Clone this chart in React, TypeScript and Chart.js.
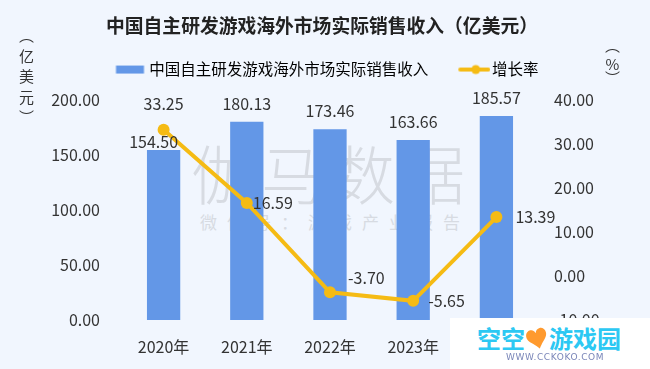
import React, { useEffect, useRef } from 'react';
import { Chart, registerables } from 'chart.js';

Chart.register(...registerables);

// ---------- data ----------
const categories = ['2020年', '2021年', '2022年', '2023年', '2024年'];
const revenue = [154.5, 180.13, 173.46, 163.66, 185.57];
const growth = [33.25, 16.59, -3.7, -5.65, 13.39];
const leftTickValues = [0, 50, 100, 150, 200];
const rightTickValues = [-10, 0, 10, 20, 30, 40];

const TITLE = '中国自主研发游戏海外市场实际销售收入（亿美元）';
const BAR_LABEL = '中国自主研发游戏海外市场实际销售收入';
const LINE_LABEL = '增长率';
const LEFT_AXIS_UNIT = '亿美元';
const RIGHT_AXIS_UNIT = '%';

// ---------- styles ----------
const FONT = '"Noto Sans CJK SC", "Noto Sans", sans-serif';
const BG = '#F1F6FE';
const BAR_COLOR = '#6397E7';
const LINE_COLOR = '#F5BB14';
const TEXT = '#333333';

// label nudges (dx, dy, align)
const BAR_LABEL_OFFSETS: [number, number][] = [[-10, -8], [0, -18], [0, -18], [0, -18], [0, -18]];
const LINE_LABEL_OFFSETS: [number, number, CanvasTextAlign][] = [
  [0, -26, 'center'],
  [6, 0, 'left'],
  [18, -14, 'left'],
  [15, 0, 'left'],
  [19, 0, 'left'],
];

function makeBarIcon(): HTMLCanvasElement {
  const c = document.createElement('canvas');
  c.width = 46;
  c.height = 10;
  const g = c.getContext('2d')!;
  g.fillStyle = BAR_COLOR;
  g.fillRect(15.5, 1, 28, 8);
  return c;
}

function makeLineIcon(): HTMLCanvasElement {
  const c = document.createElement('canvas');
  c.width = 48;
  c.height = 12;
  const g = c.getContext('2d')!;
  g.strokeStyle = LINE_COLOR;
  g.lineWidth = 4;
  g.lineCap = 'round';
  g.beginPath();
  g.moveTo(18, 6);
  g.lineTo(46, 6);
  g.stroke();
  g.fillStyle = LINE_COLOR;
  g.beginPath();
  g.arc(33.5, 6, 4.5, 0, Math.PI * 2);
  g.fill();
  return c;
}

const valueLabels = {
  id: 'valueLabels',
  afterDatasetsDraw(chart: any) {
    const ctx = chart.ctx as CanvasRenderingContext2D;
    ctx.save();
    ctx.font = `16px ${FONT}`;
    ctx.fillStyle = TEXT;
    ctx.textBaseline = 'middle';
    const barMeta = chart.getDatasetMeta(0);
    barMeta.data.forEach((el: any, i: number) => {
      const [dx, dy] = BAR_LABEL_OFFSETS[i];
      ctx.textAlign = 'center';
      ctx.fillText(revenue[i].toFixed(2), el.x + dx, el.y + dy);
    });
    const lineMeta = chart.getDatasetMeta(1);
    lineMeta.data.forEach((el: any, i: number) => {
      const [dx, dy, align] = LINE_LABEL_OFFSETS[i];
      ctx.textAlign = align;
      ctx.fillText(growth[i].toFixed(2), el.x + dx, el.y + dy);
    });
    ctx.restore();
  },
};

export default function App() {
  const ref = useRef<HTMLCanvasElement | null>(null);

  useEffect(() => {
    if (!ref.current) return;
    const barIcon = makeBarIcon();
    const lineIcon = makeLineIcon();
    const chart = new Chart(ref.current, {
      type: 'bar',
      data: {
        labels: categories,
        datasets: [
          {
            type: 'bar',
            label: BAR_LABEL,
            data: revenue,
            backgroundColor: BAR_COLOR,
            xAxisID: 'x',
            yAxisID: 'y',
            barPercentage: 0.4,
            categoryPercentage: 1,
            order: 1,
          },
          {
            type: 'line',
            label: LINE_LABEL,
            data: growth,
            borderColor: LINE_COLOR,
            backgroundColor: LINE_COLOR,
            borderWidth: 4,
            pointRadius: 6,
            pointBackgroundColor: LINE_COLOR,
            pointBorderWidth: 0,
            xAxisID: 'x',
            yAxisID: 'y1',
            tension: 0,
            order: 0,
          },
        ] as any,
      },
      options: {
        animation: false,
        responsive: false,
        maintainAspectRatio: false,
        layout: { padding: { left: 0, right: 6, top: 0, bottom: 0 } },
        plugins: {
          title: {
            display: true,
            text: TITLE,
            color: '#222',
            font: { family: FONT, size: 18.8, weight: 'bold' },
            padding: { top: 14.7, bottom: 4.5 },
          },
          legend: {
            display: true,
            position: 'top',
            labels: {
              usePointStyle: true,
              pointStyleWidth: 36,
              padding: 20,
              color: TEXT,
              font: { family: FONT, size: 15.5 },
              generateLabels: () => [
                { text: BAR_LABEL, pointStyle: barIcon, fillStyle: BAR_COLOR, strokeStyle: BAR_COLOR, lineWidth: 0, hidden: false, datasetIndex: 0 },
                { text: LINE_LABEL, pointStyle: lineIcon, fillStyle: LINE_COLOR, strokeStyle: LINE_COLOR, lineWidth: 0, hidden: false, datasetIndex: 1 },
              ] as any,
            },
          },
          tooltip: { enabled: false },
        },
        scales: {
          x: {
            type: 'category',
            position: 'bottom',
            offset: true,
            grid: { display: false, drawTicks: false },
            border: { display: false },
            ticks: { color: TEXT, font: { family: FONT, size: 16 }, padding: 17 },
            afterFit: (s: any) => { s.height = 49; },
          },
          xTop: {
            type: 'category',
            position: 'top',
            grid: { display: false, drawTicks: false },
            border: { display: false },
            ticks: { display: false },
            afterFit: (s: any) => { s.height = 12.75; },
          },
          y: {
            type: 'linear',
            position: 'left',
            min: leftTickValues[0],
            max: leftTickValues[leftTickValues.length - 1],
            grid: { display: false, drawTicks: false },
            border: { display: false },
            afterBuildTicks: (s: any) => { s.ticks = leftTickValues.map((v) => ({ value: v })); },
            ticks: {
              color: TEXT,
              font: { family: FONT, size: 16 },
              padding: 22,
              callback: (v: any) => Number(v).toFixed(2),
            },
            afterFit: (s: any) => { s.width = 122; },
          },
          y1: {
            type: 'linear',
            position: 'right',
            min: rightTickValues[0],
            max: rightTickValues[rightTickValues.length - 1],
            grid: { display: false, drawTicks: false },
            border: { display: false },
            afterBuildTicks: (s: any) => { s.ticks = rightTickValues.map((v) => ({ value: v })); },
            ticks: {
              color: TEXT,
              font: { family: FONT, size: 16 },
              padding: 16,
              callback: (v: any) => Number(v).toFixed(2),
            },
            afterFit: (s: any) => { s.width = 106; },
          },
        },
      } as any,
      plugins: [valueLabels],
    });
    return () => chart.destroy();
  }, []);

  const verticalTitle = (unit: string, cx: number, top: number, spacing: number) => (
    <div
      style={{
        position: 'absolute',
        left: cx - 10,
        top,
        width: 20,
        writingMode: 'vertical-rl',
        textOrientation: 'mixed',
        fontSize: 15,
        lineHeight: '20px',
        letterSpacing: spacing,
        color: TEXT,
        fontFamily: FONT,
        whiteSpace: 'nowrap',
      }}
    >
      （{unit.length === 1 ? <span style={{ textCombineUpright: 'all' } as any}>{unit}</span> : unit}）
    </div>
  );

  return (
    <div
      style={{
        position: 'fixed',
        left: 0,
        top: 0,
        width: 650,
        height: 369,
        background: BG,
        overflow: 'hidden',
        fontFamily: FONT,
      }}
    >
      {/* faint watermark behind the chart */}
      <div
        style={{
          position: 'absolute',
          left: 0,
          width: 650,
          top: 133,
          textAlign: 'center',
          fontSize: 64,
          lineHeight: '76px',
          letterSpacing: 6,
          color: '#D7DBE2',
          fontWeight: 300,
          paddingLeft: 6,
        }}
      >
        伽马数据
      </div>
      <div
        style={{
          position: 'absolute',
          left: 0,
          width: 650,
          top: 210,
          textAlign: 'center',
          fontSize: 17,
          lineHeight: '24px',
          letterSpacing: 10,
          color: '#D7DBE2',
          paddingLeft: 10,
        }}
      >
        微信号：游戏产业报告
      </div>

      <canvas ref={ref} width={650} height={369} style={{ position: 'absolute', left: 0, top: 0, width: 650, height: 369 }} />

      {/* vertical axis titles */}
      {verticalTitle(LEFT_AXIS_UNIT, 26, 28, 5.5)}
      {verticalTitle(RIGHT_AXIS_UNIT, 612, 38, 3)}

      {/* corner logo */}
      <div style={{ position: 'absolute', left: 450, top: 318, width: 200, height: 51, background: '#FFFFFF' }}>
        <div
          style={{
            position: 'absolute',
            left: 27,
            top: 6,
            fontSize: 24,
            lineHeight: '28px',
            fontWeight: 'bold',
            color: '#2CC8F3',
            whiteSpace: 'nowrap',
            letterSpacing: 0,
          }}
        >
          空空<span style={{ color: '#FF9A2E', display: 'inline-block', transform: 'rotate(-15deg)' }}>♥</span>游戏园
        </div>
        <div
          style={{
            position: 'absolute',
            left: 56,
            top: 33,
            fontSize: 9,
            lineHeight: '12px',
            color: '#7A86B8',
            letterSpacing: 0.6,
            fontFamily: '"DejaVu Sans", sans-serif',
          }}
        >
          WWW.CCKOKO.COM
        </div>
      </div>
    </div>
  );
}
